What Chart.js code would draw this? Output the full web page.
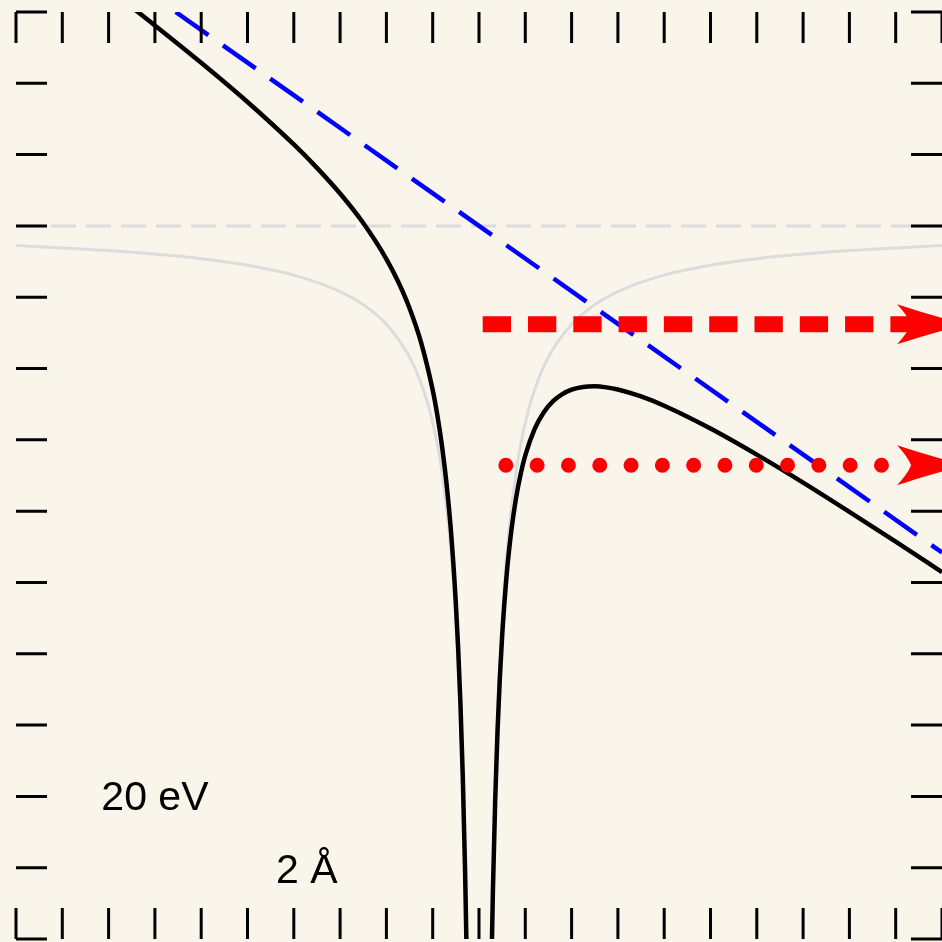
<!DOCTYPE html>
<html>
<head>
<meta charset="utf-8">
<script src="https://cdn.jsdelivr.net/npm/chart.js@4"></script>
<style>
  html, body { margin: 0; padding: 0; background: #faf5eb; }
</style>
</head>
<body>
<canvas id="potentialChart" width="942" height="942"></canvas>
<script>
// Tick positions (distance in Å, energy in eV)
const xTicks = [-10, -9, -8, -7, -6, -5, -4, -3, -2, -1, 0, 1, 2, 3, 4, 5, 6, 7, 8, 9, 10];
const yTicks = [-50, -45, -40, -35, -30, -25, -20, -15, -10, -5, 0, 5, 10];
const yTopTick = 15;

// Total potential (Coulomb + applied field), null splits the two branches
const totalX = [-10, -9, -8, -7, -6, -5, -4, -3.5, -3, -2.5, -2, -1.75, -1.5, -1.25, -1, -0.9, -0.8, -0.7, -0.6, -0.5,
    -0.45, -0.4, -0.35, -0.3, -0.27, -0.25, -0.22, 0,
    0.22, 0.25, 0.27, 0.3, 0.35, 0.4, 0.45, 0.5, 0.6, 0.7, 0.8, 0.9, 1, 1.2, 1.4, 1.6, 1.8, 2, 2.25, 2.5,
    2.75, 3, 3.5, 4, 5, 6, 7, 8, 9, 10];
const totalY = [21.52, 19.08, 16.6, 14.06, 11.44, 8.69, 5.71, 4.07, 2.27, 0.2, -2.32, -3.88, -5.77, -8.18, -11.51, -13.27, -15.42, -18.11, -21.63, -26.46,
    -29.64, -33.58, -38.63, -45.31, -50.49, -54.63, -62.22, null,
    -63.23, -55.77, -51.73, -46.69, -40.23, -35.42, -31.7, -28.75, -24.37, -21.32, -19.08, -17.39, -16.09, -14.25, -13.06, -12.29, -11.79, -11.48, -11.29, -11.25,
    -11.32, -11.47, -11.96, -12.61, -14.21, -16.04, -18.0, -20.05, -22.14, -24.28];

// Coulomb potential alone (light grey)
const coulombX = [-10, -8, -6, -5, -4, -3, -2.5, -2, -1.5, -1.25, -1, -0.8, -0.6, -0.5, -0.4, -0.3, -0.25, -0.2, 0,
    0.2, 0.25, 0.3, 0.4, 0.5, 0.6, 0.8, 1, 1.25, 1.5, 2, 2.5, 3, 4, 5, 6, 8, 10];
const coulombY = [-1.38, -1.73, -2.3, -2.76, -3.45, -4.6, -5.52, -6.9, -9.2, -11.04, -13.8, -17.25, -23, -27.6, -34.5, -46, -55.2, -69, null,
    -69, -55.2, -46, -34.5, -27.6, -23, -17.25, -13.8, -11.04, -9.2, -6.9, -5.52, -4.6, -3.45, -2.76, -2.3, -1.73, -1.38];

// Applied field alone (blue dashed)
const fieldX = [-6.55, 10];
const fieldY = [15, -22.9];

// Zero energy reference
const zeroX = [-10, 10];
const zeroY = [0, 0];

// Energy levels with arrows
const upperLevelX = [0.08, 9.33];
const upperLevelY = [-6.9, -6.9];
const lowerLevelX = [0.58, 9.33];
const lowerLevelY = [-16.78, -16.78];
const arrowTipX = 10.52;

// Scale labels
const labelText = ['20 eV', '2 Å'];
const labelX = [-7, -3.72];
const labelY = [-40.95, -46.1];

const bgColor = '#faf5eb';

function toPoints(xs, ys) {
    return xs.map((x, i) => ({ x: x, y: ys[i] }));
}

// Background fill
const backgroundPlugin = {
    id: 'background',
    beforeDraw(chart) {
        const ctx = chart.ctx;
        ctx.save();
        ctx.fillStyle = bgColor;
        ctx.fillRect(0, 0, chart.width, chart.height);
        ctx.restore();
    }
};

// Inward ticks on all four sides, arrowheads and text labels
const decorPlugin = {
    id: 'decor',
    afterDatasetsDraw(chart) {
        const ctx = chart.ctx;
        const xs = chart.scales.x;
        const ys = chart.scales.y;
        const area = chart.chartArea;
        const len = 31;

        ctx.save();
        ctx.strokeStyle = '#000';
        ctx.lineWidth = 3;
        ctx.lineCap = 'butt';
        ctx.beginPath();
        xTicks.forEach(t => {
            const px = xs.getPixelForValue(t);
            ctx.moveTo(px, area.top);
            ctx.lineTo(px, area.top + len);
            ctx.moveTo(px, area.bottom);
            ctx.lineTo(px, area.bottom - len);
        });
        yTicks.concat([yTopTick]).forEach(t => {
            const py = ys.getPixelForValue(t);
            ctx.moveTo(area.left, py);
            ctx.lineTo(area.left + len, py);
            ctx.moveTo(area.right, py);
            ctx.lineTo(area.right - len, py);
        });
        ctx.stroke();

        // Red arrowheads at the end of both levels
        ctx.fillStyle = '#ff0000';
        [upperLevelY[1], lowerLevelY[1]].forEach(level => {
            const tx = xs.getPixelForValue(arrowTipX);
            const ty = ys.getPixelForValue(level);
            ctx.beginPath();
            ctx.moveTo(tx, ty);
            ctx.quadraticCurveTo(tx - 36, ty - 9, tx - 69, ty - 20);
            ctx.quadraticCurveTo(tx - 58, ty - 8, tx - 55, ty);
            ctx.quadraticCurveTo(tx - 58, ty + 8, tx - 69, ty + 20);
            ctx.quadraticCurveTo(tx - 36, ty + 9, tx, ty);
            ctx.closePath();
            ctx.fill();
        });

        // Text labels
        ctx.fillStyle = '#000';
        ctx.font = '41px "Liberation Sans", Arial, sans-serif';
        ctx.textAlign = 'center';
        ctx.textBaseline = 'alphabetic';
        labelText.forEach((txt, i) => {
            ctx.fillText(txt, xs.getPixelForValue(labelX[i]), ys.getPixelForValue(labelY[i]));
        });
        ctx.restore();
    }
};

const ctx = document.getElementById('potentialChart').getContext('2d');
const potentialChart = new Chart(ctx, {
    type: 'line',
    data: {
        datasets: [
            {
                label: 'upper level',
                data: toPoints(upperLevelX, upperLevelY),
                borderColor: '#ff0000',
                borderWidth: 16,
                borderDash: [28.3, 17],
                borderCapStyle: 'butt',
                pointRadius: 0,
                order: 1
            },
            {
                label: 'lower level',
                data: toPoints(lowerLevelX, lowerLevelY),
                borderColor: '#ff0000',
                borderWidth: 15,
                borderDash: [0, 31.3],
                borderCapStyle: 'round',
                pointRadius: 0,
                order: 1
            },
            {
                label: 'field',
                data: toPoints(fieldX, fieldY),
                borderColor: '#0000ff',
                borderWidth: 4.5,
                borderDash: [40, 17.8],
                borderCapStyle: 'butt',
                pointRadius: 0,
                clip: 0,
                order: 2
            },
            {
                label: 'total',
                data: toPoints(totalX, totalY),
                borderColor: '#000000',
                borderWidth: 4.5,
                cubicInterpolationMode: 'monotone',
                spanGaps: false,
                pointRadius: 0,
                clip: 0,
                order: 3
            },
            {
                label: 'coulomb',
                data: toPoints(coulombX, coulombY),
                borderColor: '#dcdcdc',
                borderWidth: 3,
                cubicInterpolationMode: 'monotone',
                spanGaps: false,
                pointRadius: 0,
                clip: 0,
                order: 4
            },
            {
                label: 'zero',
                data: toPoints(zeroX, zeroY),
                borderColor: '#dcdcdc',
                borderWidth: 3,
                borderDash: [25, 10],
                borderCapStyle: 'butt',
                pointRadius: 0,
                clip: 0,
                order: 5
            }
        ]
    },
    options: {
        responsive: false,
        animation: false,
        devicePixelRatio: 1,
        layout: {
            padding: { left: 16, top: 12, right: -1, bottom: 3 }
        },
        plugins: {
            legend: { display: false },
            tooltip: { enabled: false }
        },
        scales: {
            x: { type: 'linear', min: -10, max: 10, display: false },
            y: { type: 'linear', min: -50, max: 15, display: false }
        }
    },
    plugins: [backgroundPlugin, decorPlugin]
});
</script>
</body>
</html>
